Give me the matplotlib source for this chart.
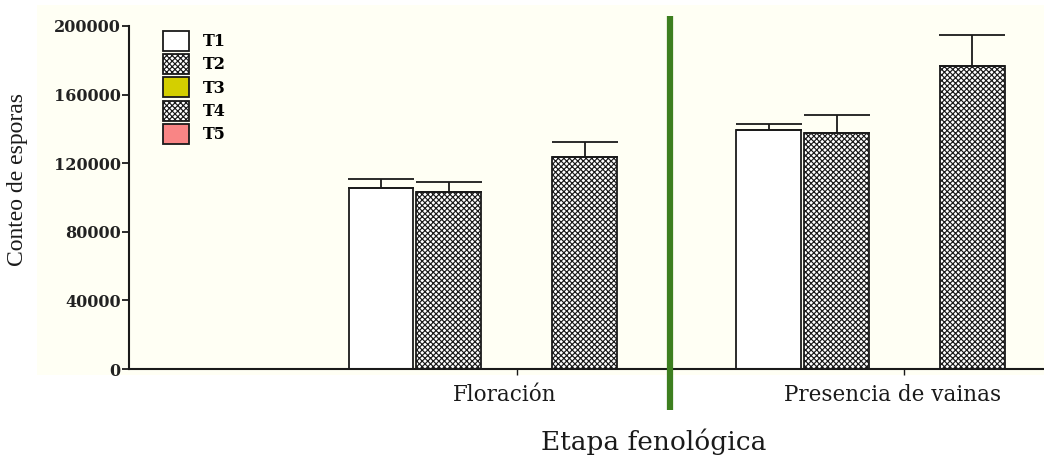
import numpy as np
import matplotlib
matplotlib.use("Agg")
import matplotlib.pyplot as plt
from matplotlib.lines import Line2D
from matplotlib.patches import Rectangle
from matplotlib.transforms import ScaledTranslation

# ---- data ----
stages = ["Floración", "Presencia de vainas"]
treatments = ["T1", "T2", "T3", "T4", "T5"]
means = {
    "T1": [105400, 139400],
    "T2": [103400, 137800],
    "T3": [np.nan, np.nan],
    "T4": [123400, 176800],
    "T5": [np.nan, np.nan],
}
errs = {
    "T1": [5400, 3300],
    "T2": [5800, 10300],
    "T3": [np.nan, np.nan],
    "T4": [8700, 18000],
    "T5": [np.nan, np.nan],
}
yticks = [0, 40000, 80000, 120000, 160000, 200000]

# ---- styles ----
FACE = {"T1": "white", "T2": "white", "T3": "#d4cf00", "T4": "white", "T5": "#f98585"}
HATCH = {"T1": None, "T2": "xxxxxx", "T3": None, "T4": "xxxxxx", "T5": None}
CREAM, INK, GREEN = "#fffff4", "#1a1a1a", "#3d7f1f"

plt.rcParams["hatch.linewidth"] = 0.85

fig = plt.figure(figsize=(10.44, 4.58), dpi=100)
fig.patch.set_facecolor("white")
W, H = 1044, 458
fig.patches.append(Rectangle((37 / W, 1 - 375 / H), 1 - 37 / W, (375 - 5) / H,
                             transform=fig.transFigure, facecolor=CREAM,
                             edgecolor="none", zorder=-5))

ax = fig.add_axes([129 / W, 1 - 369 / H, 1 - 129 / W, (369 - 26) / H])
ax.set_facecolor("none")

x = np.arange(1, len(stages) + 1)
step, width = 0.175, 0.167
for i, t in enumerate(treatments):
    xs = x + (i - 2) * step
    ax.bar(xs, means[t], width=width, color=FACE[t], hatch=HATCH[t],
           edgecolor=INK, linewidth=1.3, zorder=2)
    ax.errorbar(xs, means[t], yerr=[np.zeros(len(x)), errs[t]], fmt="none",
                ecolor=INK, elinewidth=1.3, capsize=23.5, capthick=1.3, zorder=3)

ax.set_xlim(0, 2.36)
ax.set_ylim(0, 200000)
ax.set_yticks(yticks)
ax.set_yticklabels([str(v) for v in yticks], family="DejaVu Serif",
                   fontweight="bold", fontsize=11.5, color="#222222")
ax.set_xticks(x)
ax.set_xticklabels([])
# category names sit a little left of their ticks in the reference
shift = ax.get_xaxis_transform() + ScaledTranslation(-12 / 100, -26 / 100, fig.dpi_scale_trans)
for xi, name in zip(x, stages):
    ax.text(xi, 0, name, transform=shift, family="DejaVu Serif", fontsize=15.5,
            color=INK, ha="center", va="center")
ax.tick_params(axis="y", length=5, width=1.3, color=INK, pad=1)
ax.tick_params(axis="x", length=4, width=1.0, color=INK)
for s in ("top", "right"):
    ax.spines[s].set_visible(False)
for s in ("left", "bottom"):
    ax.spines[s].set_linewidth(1.5)
    ax.spines[s].set_color(INK)

fig.text(18 / W, 1 - 180 / H, "Conteo de esporas", family="Liberation Serif",
         fontsize=17, color=INK, rotation=90, ha="center", va="center")
fig.text(654 / W, 1 - 442 / H, "Etapa fenológica", family="DejaVu Serif",
         fontsize=19, color=INK, ha="center", va="center")

# legend: column of boxes top-left
handles = [Rectangle((0, 0), 1, 1, facecolor=FACE[t], hatch=HATCH[t],
                     edgecolor=INK, linewidth=1.3) for t in treatments]
leg = ax.legend(handles, treatments, loc="upper left",
                bbox_to_anchor=(163 / W, 1 - 31 / H), bbox_transform=fig.transFigure,
                frameon=False, borderpad=0, borderaxespad=0,
                handlelength=1.6, handleheight=1.55,
                labelspacing=0.2, handletextpad=0.9,
                prop={"family": "DejaVu Serif", "weight": "bold", "size": 11.5})

# green separator line
fig.add_artist(Line2D([670 / W, 670 / W], [1 - 16 / H, 1 - 410 / H],
                      transform=fig.transFigure, color=GREEN, lw=4.5,
                      solid_capstyle="butt", zorder=5))

fig.savefig("out.png", dpi=100)
